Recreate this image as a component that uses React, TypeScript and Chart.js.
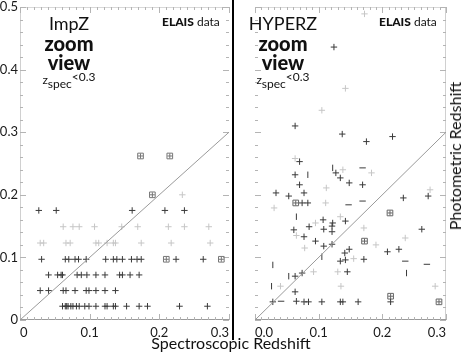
import React, { useEffect, useRef } from 'react';
import { Chart, registerables } from 'chart.js';
Chart.register(...registerables);

// ---------- data ----------
const xLabelsImpz = ['0', '0.1', '0.2', '0.3'];
const xLabelsHyperz = ['0.0', '0.1', '0.2', '0.3'];
const yLabels = ['0', '0.1', '0.2', '0.3', '0.4', '0.5'];
const identityLine: [number, number][] = [[0, 0], [0.3, 0.3]];

// ImpZ (left panel) — [zspec, zphot]
const impzDark: [number, number][] = [
  [0.027, 0.175], [0.052, 0.175], [0.161, 0.175], [0.208, 0.175], [0.236, 0.175],
  [0.031, 0.097], [0.065, 0.097], [0.07, 0.097], [0.079, 0.097], [0.084, 0.097], [0.095, 0.097],
  [0.123, 0.097], [0.134, 0.097], [0.139, 0.097], [0.147, 0.097], [0.16, 0.097], [0.168, 0.097],
  [0.174, 0.097], [0.224, 0.097], [0.263, 0.097],
  [0.041, 0.072], [0.054, 0.072], [0.059, 0.072], [0.061, 0.072], [0.082, 0.072], [0.088, 0.072],
  [0.096, 0.072], [0.109, 0.072], [0.122, 0.072], [0.143, 0.072], [0.147, 0.072], [0.158, 0.072],
  [0.171, 0.072],
  [0.029, 0.047], [0.041, 0.047], [0.062, 0.047], [0.066, 0.047], [0.079, 0.047], [0.095, 0.047],
  [0.099, 0.047], [0.109, 0.047], [0.122, 0.047], [0.137, 0.047],
  [0.061, 0.022], [0.065, 0.022], [0.067, 0.022], [0.069, 0.022], [0.073, 0.022], [0.076, 0.022],
  [0.081, 0.022], [0.085, 0.022], [0.093, 0.022], [0.099, 0.022], [0.109, 0.022], [0.122, 0.022],
  [0.125, 0.022], [0.134, 0.022], [0.137, 0.022], [0.153, 0.022], [0.171, 0.022], [0.183, 0.022],
  [0.229, 0.022], [0.269, 0.022],
];
const impzLight: [number, number][] = [
  [0.233, 0.2],
  [0.062, 0.149], [0.076, 0.149], [0.085, 0.149], [0.107, 0.149], [0.146, 0.149], [0.169, 0.149],
  [0.213, 0.149], [0.236, 0.149], [0.271, 0.149],
  [0.029, 0.123], [0.034, 0.123], [0.066, 0.123], [0.072, 0.123], [0.109, 0.123], [0.113, 0.123],
  [0.125, 0.123], [0.134, 0.123], [0.137, 0.123], [0.174, 0.123], [0.217, 0.123], [0.273, 0.123],
];
const impzBoxes: [number, number][] = [
  [0.19, 0.2], [0.173, 0.262], [0.215, 0.262], [0.21, 0.097], [0.289, 0.097],
];

// HYPERZ (right panel) — [zspec, zphot]
const hyperzDark: [number, number][] = [
  [0.124, 0.436], [0.063, 0.31], [0.137, 0.297], [0.175, 0.285], [0.216, 0.293], [0.07, 0.253],
  [0.063, 0.232], [0.127, 0.235], [0.134, 0.227], [0.07, 0.216], [0.148, 0.219], [0.169, 0.216],
  [0.033, 0.203], [0.053, 0.198], [0.077, 0.203], [0.233, 0.195], [0.272, 0.198], [0.074, 0.187],
  [0.083, 0.187], [0.107, 0.16], [0.142, 0.158], [0.122, 0.155], [0.121, 0.15], [0.061, 0.144],
  [0.085, 0.149], [0.108, 0.145], [0.262, 0.145], [0.121, 0.141], [0.077, 0.133], [0.095, 0.126],
  [0.121, 0.121], [0.108, 0.118], [0.148, 0.113], [0.208, 0.109], [0.226, 0.113], [0.141, 0.107],
  [0.134, 0.094], [0.142, 0.096], [0.171, 0.097], [0.145, 0.077], [0.063, 0.07], [0.074, 0.075],
  [0.063, 0.045], [0.028, 0.029], [0.065, 0.03], [0.077, 0.029], [0.084, 0.029], [0.105, 0.029],
  [0.134, 0.029], [0.138, 0.029], [0.162, 0.029], [0.213, 0.029],
];
const hyperzDash: [number, number][] = [
  [0.169, 0.243], [0.147, 0.184], [0.169, 0.19], [0.236, 0.094], [0.27, 0.089], [0.041, 0.03],
];
const hyperzBar: [number, number][] = [
  [0.083, 0.232], [0.122, 0.243], [0.065, 0.165], [0.105, 0.101], [0.028, 0.088], [0.238, 0.075],
  [0.053, 0.07], [0.026, 0.054],
];
const hyperzLight: [number, number][] = [
  [0.172, 0.489], [0.142, 0.37], [0.105, 0.335], [0.063, 0.258], [0.138, 0.24], [0.183, 0.235],
  [0.112, 0.211], [0.275, 0.208], [0.03, 0.179], [0.111, 0.187], [0.134, 0.165], [0.171, 0.147],
  [0.19, 0.12], [0.236, 0.131], [0.04, 0.054], [0.135, 0.054], [0.283, 0.054], [0.092, 0.077],
  [0.13, 0.077], [0.095, 0.155], [0.065, 0.135], [0.155, 0.098], [0.078, 0.115],
];
const hyperzBoxes: [number, number][] = [
  [0.212, 0.171], [0.172, 0.126], [0.213, 0.038], [0.289, 0.029], [0.064, 0.187],
];

// ---------- helpers ----------
const toXY = (arr: [number, number][]) => arr.map(([x, y]) => ({ x, y }));
const DARK = '#3a3a3a';
const LIGHT = '#c6c6c6';
const TICK = '#b4b4b4';
const FONT = 'Lato, "Open Sans", sans-serif';

function framePlugin(sides: { left?: string; right?: string; top?: string; bottom?: string }) {
  return {
    id: 'frameTicks',
    beforeDatasetsDraw(chart: any) {
      const { ctx, chartArea: a, scales } = chart;
      const x = scales.x;
      const y = scales.y;
      const seg = (x1: number, y1: number, x2: number, y2: number, c: string) => {
        ctx.strokeStyle = c;
        ctx.beginPath();
        ctx.moveTo(x1, y1);
        ctx.lineTo(x2, y2);
        ctx.stroke();
      };
      ctx.save();
      ctx.lineWidth = 1;
      const L = Math.round(a.left) + 0.5;
      const R = Math.round(a.right) - 0.5;
      const T = Math.round(a.top) + 0.5;
      const B = Math.round(a.bottom) - 0.5;
      if (sides.left) seg(L, a.top, L, a.bottom, sides.left);
      if (sides.right) seg(R, a.top, R, a.bottom, sides.right);
      if (sides.top) seg(a.left, T, a.right, T, sides.top);
      if (sides.bottom) seg(a.left, B, a.right, B, sides.bottom);
      for (let i = 0; i <= 30; i++) {
        const px = Math.round(x.getPixelForValue(i / 100)) + 0.5;
        const len = i % 10 === 0 ? 6 : 3;
        seg(px, a.bottom, px, a.bottom - len, TICK);
        seg(px, a.top, px, a.top + len, TICK);
      }
      for (let i = 0; i <= 25; i++) {
        const py = Math.round(y.getPixelForValue(i * 0.02)) + 0.5;
        const len = i % 5 === 0 ? 6 : 3;
        seg(a.left, py, a.left + len, py, TICK);
        seg(a.right, py, a.right - len, py, TICK);
      }
      ctx.restore();
    },
  };
}

function pts(data: [number, number][], color: string, style: string, rotation = 0, radius = 3.2) {
  return {
    data: toXY(data),
    pointStyle: style,
    rotation,
    pointRadius: radius,
    pointBorderColor: color,
    pointBackgroundColor: 'rgba(0,0,0,0)',
    pointBorderWidth: 1,
    showLine: false,
  };
}

function diag() {
  return {
    data: toXY(identityLine),
    showLine: true,
    borderColor: '#9a9a9a',
    borderWidth: 1,
    pointRadius: 0,
  };
}

function baseOptions(xLabels: string[], showY: boolean, padding: any) {
  return {
    animation: false,
    responsive: false,
    maintainAspectRatio: false,
    events: [],
    layout: { padding },
    plugins: { legend: { display: false }, tooltip: { enabled: false } },
    scales: {
      x: {
        type: 'linear',
        min: 0,
        max: 0.3,
        afterFit(s: any) {
          s.height = 34;
          s.paddingLeft = 0;
          s.paddingRight = 0;
        },
        grid: { display: false, drawTicks: false },
        border: { display: false },
        ticks: {
          stepSize: 0.1,
          align: 'inner',
          padding: 5,
          autoSkip: false,
          maxRotation: 0,
          color: '#1a1a1a',
          font: { family: FONT, size: 13 },
          callback: (_v: any, i: number) => xLabels[i],
        },
      },
      y: {
        type: 'linear',
        min: 0,
        max: 0.5,
        display: showY,
        afterFit(s: any) {
          s.width = 20;
          s.paddingTop = 0;
          s.paddingBottom = 0;
        },
        grid: { display: false, drawTicks: false },
        border: { display: false },
        ticks: {
          stepSize: 0.1,
          padding: 2,
          color: '#1a1a1a',
          font: { family: FONT, size: 13 },
          callback: (_v: any, i: number) => yLabels[i],
        },
      },
    },
  };
}

function PanelText({ cx, name, elaisX }: { cx: number; name: string; elaisX: number }) {
  const center: React.CSSProperties = {
    position: 'absolute',
    left: cx,
    transform: 'translateX(-50%)',
    whiteSpace: 'nowrap',
    lineHeight: 1,
    color: '#111',
  };
  return (
    <>
      <div style={{ ...center, top: 14, fontSize: 18, fontWeight: 400 }}>{name}</div>
      <div style={{ ...center, top: 33, fontSize: 20, fontWeight: 900 }}>zoom</div>
      <div style={{ ...center, top: 52, fontSize: 20, fontWeight: 900 }}>view</div>
      <div style={{ ...center, top: 74, fontSize: 12 }}>
        <span>z</span>
        <span style={{ position: 'relative', top: 4 }}>spec</span>
        <span style={{ position: 'relative', top: -3 }}>&lt;0.3</span>
      </div>
      <div style={{ position: 'absolute', left: elaisX, top: 16, fontSize: 12, lineHeight: 1, whiteSpace: 'nowrap', color: '#111' }}>
        <span style={{ fontWeight: 900 }}>ELAIS</span> <span>data</span>
      </div>
    </>
  );
}

export default function App() {
  const leftRef = useRef<HTMLCanvasElement>(null);
  const rightRef = useRef<HTMLCanvasElement>(null);

  useEffect(() => {
    const left = new Chart(leftRef.current as HTMLCanvasElement, {
      type: 'scatter',
      data: {
        datasets: [
          diag(),
          pts(impzDark, DARK, 'cross'),
          pts(impzBoxes, '#777', 'rect', 0, 4),
          pts(impzBoxes, '#777', 'cross', 0, 2.5),
          pts(impzLight, LIGHT, 'cross'),
        ] as any,
      },
      options: baseOptions(xLabelsImpz, true, { left: 0, right: 2, top: 7, bottom: 0 }) as any,
      plugins: [framePlugin({ left: '#d0d0d0', top: '#d8d8d8', bottom: '#9a9a9a' })],
    });
    const right = new Chart(rightRef.current as HTMLCanvasElement, {
      type: 'scatter',
      data: {
        datasets: [
          diag(),
          pts(hyperzDark, DARK, 'cross'),
          pts(hyperzDash, DARK, 'line'),
          pts(hyperzBar, DARK, 'line', 90),
          pts(hyperzBoxes, '#666', 'rect', 0, 4),
          pts(hyperzBoxes, '#666', 'cross', 0, 2.5),
          pts(hyperzLight, LIGHT, 'cross'),
        ] as any,
      },
      options: baseOptions(xLabelsHyperz, false, { left: 2, right: 17, top: 7, bottom: 0 }) as any,
      plugins: [framePlugin({ right: '#d0d0d0', top: '#d8d8d8', bottom: '#9a9a9a' })],
    });
    return () => {
      left.destroy();
      right.destroy();
    };
  }, []);

  return (
    <div
      style={{
        position: 'fixed',
        left: 0,
        top: 0,
        width: 463,
        height: 354,
        background: '#fff',
        overflow: 'hidden',
        fontFamily: FONT,
      }}
    >
      <canvas ref={leftRef} width={234} height={354} style={{ position: 'absolute', left: 0, top: 0 }} />
      <canvas ref={rightRef} width={230} height={354} style={{ position: 'absolute', left: 233, top: 0 }} />
      <PanelText cx={69} name="ImpZ" elaisX={162} />
      <PanelText cx={283} name="HYPERZ" elaisX={379} />
      <div style={{ position: 'absolute', left: 232, top: 0, width: 2, height: 340, background: '#000' }} />
      <div
        style={{
          position: 'absolute',
          left: 231,
          top: 335,
          transform: 'translateX(-50%)',
          fontSize: 16,
          lineHeight: 1,
          whiteSpace: 'nowrap',
          color: '#111',
        }}
      >
        Spectroscopic Redshift
      </div>
      <div
        style={{
          position: 'absolute',
          left: 455,
          top: 156,
          transform: 'translate(-50%, -50%) rotate(-90deg)',
          fontSize: 16,
          lineHeight: 1,
          whiteSpace: 'nowrap',
          color: '#111',
        }}
      >
        Photometric Redshift
      </div>
    </div>
  );
}
